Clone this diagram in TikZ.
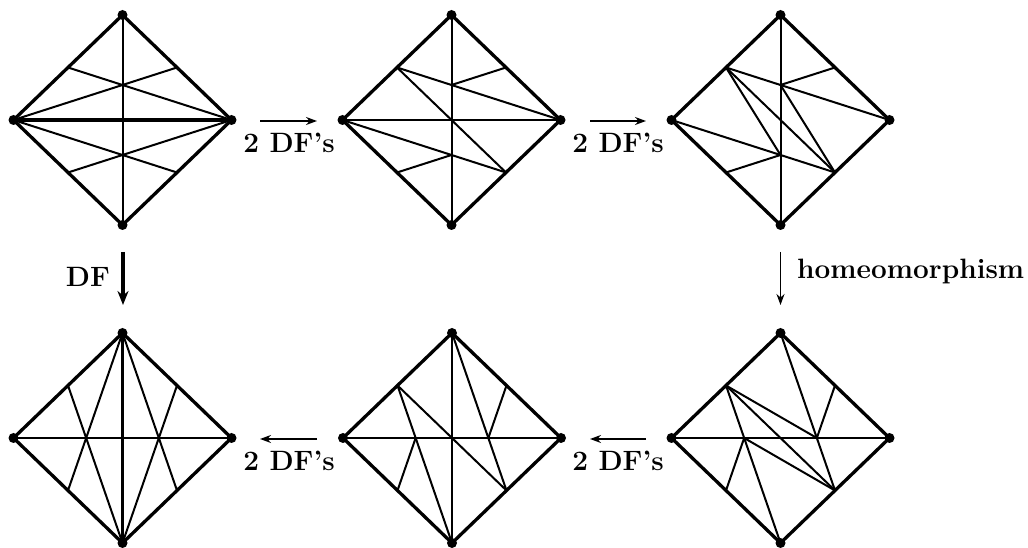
\documentclass[tikz,border=0pt]{standalone}
\usetikzlibrary{arrows.meta}
\tikzset{
  rim/.style={line width=3.3pt, line join=round},
  chord/.style={line width=2pt, line cap=round},
  heavy/.style={line width=3.2pt, line cap=round},
  vtx/.style={circle, fill=black, inner sep=0pt, minimum size=10pt},
  lbl/.style={font=\bfseries\fontsize{28}{32}\selectfont, inner sep=0pt},
  flow/.style={-{Stealth[length=11pt,width=8pt]}, line width=1.6pt},
  bigflow/.style={-{Stealth[length=14pt,width=11pt]}, line width=3.2pt},
}
% Square frame of a triangulated disc: four corner vertices, edge midpoints,
% and the interior points used by the chords.
\newcommand\discframe[3]{%
  \begin{scope}[shift={(#2pt,#3pt)}, x=109pt, y=105pt]
    \coordinate (#1-L)  at (-1,0);
    \coordinate (#1-R)  at (1,0);
    \coordinate (#1-T)  at (0,1);
    \coordinate (#1-B)  at (0,-1);
    \coordinate (#1-C)  at (0,0);
    \coordinate (#1-UL) at (-0.5,0.5);
    \coordinate (#1-UR) at (0.5,0.5);
    \coordinate (#1-LL) at (-0.5,-0.5);
    \coordinate (#1-LR) at (0.5,-0.5);
    \coordinate (#1-P)  at (0,1/3);
    \coordinate (#1-Q)  at (0,-1/3);
    \coordinate (#1-Lp) at (-1/3,0);
    \coordinate (#1-Rp) at (1/3,0);
  \end{scope}
}
\newcommand\discrim[1]{%
  \draw[rim] (#1-L) -- (#1-T) -- (#1-R) -- (#1-B) -- cycle;
  \foreach \v in {L,R,T,B} \node[vtx] (#1-dot\v) at (#1-\v) {};
}
\begin{document}
\begin{tikzpicture}[x=1pt, y=1pt]
  \useasboundingbox (0,0) rectangle (1028,548);

  \discframe{a}{122.5}{428}
  \discframe{b}{451.5}{428}
  \discframe{c}{780.5}{428}
  \discframe{d}{122.5}{110}
  \discframe{e}{452}{110}
  \discframe{f}{780.5}{110}

  % top left
  \draw[chord] (a-T) -- (a-B);
  \draw[heavy] (a-L) -- (a-R);
  \draw[chord] (a-UL) -- (a-R);
  \draw[chord] (a-UR) -- (a-L);
  \draw[chord] (a-LL) -- (a-R);
  \draw[chord] (a-LR) -- (a-L);
  \discrim{a}

  % top middle
  \draw[chord] (b-T) -- (b-B);
  \draw[chord] (b-L) -- (b-R);
  \draw[chord] (b-UL) -- (b-R);
  \draw[chord] (b-UR) -- (b-P);
  \draw[chord] (b-UL) -- (b-LR);
  \draw[chord] (b-L) -- (b-LR);
  \draw[chord] (b-LL) -- (b-Q);
  \discrim{b}

  % top right
  \draw[chord] (c-T) -- (c-B);
  \draw[chord] (c-UL) -- (c-R);
  \draw[chord] (c-UR) -- (c-P);
  \draw[chord] (c-UL) -- (c-LR);
  \draw[chord] (c-UL) -- (c-Q);
  \draw[chord] (c-P) -- (c-LR);
  \draw[chord] (c-L) -- (c-LR);
  \draw[chord] (c-LL) -- (c-Q);
  \discrim{c}

  % bottom left
  \draw[heavy] (d-T) -- (d-B);
  \draw[chord] (d-L) -- (d-R);
  \draw[chord] (d-T) -- (d-LL);
  \draw[chord] (d-T) -- (d-LR);
  \draw[chord] (d-B) -- (d-UL);
  \draw[chord] (d-B) -- (d-UR);
  \discrim{d}

  % bottom middle
  \draw[chord] (e-T) -- (e-B);
  \draw[chord] (e-L) -- (e-R);
  \draw[chord] (e-T) -- (e-LR);
  \draw[chord] (e-UR) -- (e-Rp);
  \draw[chord] (e-UL) -- (e-LR);
  \draw[chord] (e-UL) -- (e-B);
  \draw[chord] (e-LL) -- (e-Lp);
  \discrim{e}

  % bottom right
  \draw[chord] (f-L) -- (f-R);
  \draw[chord] (f-T) -- (f-LR);
  \draw[chord] (f-UR) -- (f-Rp);
  \draw[chord] (f-UL) -- (f-Rp);
  \draw[chord] (f-UL) -- (f-LR);
  \draw[chord] (f-UL) -- (f-B);
  \draw[chord] (f-Lp) -- (f-LR);
  \draw[chord] (f-LL) -- (f-Lp);
  \discrim{f}

  % moves between the triangulations
  \coordinate (m1s) at (260,427);  \coordinate (m1e) at (317,427);
  \coordinate (m2s) at (590,427);  \coordinate (m2e) at (646,427);
  \coordinate (m3s) at (646,109);  \coordinate (m3e) at (590,109);
  \coordinate (m4s) at (317,109);  \coordinate (m4e) at (260,109);
  \coordinate (m5s) at (123,296);  \coordinate (m5e) at (123,243);
  \coordinate (m6s) at (780.5,296); \coordinate (m6e) at (780.5,243);

  \draw[flow] (m1s) -- (m1e);
  \draw[flow] (m2s) -- (m2e);
  \draw[flow] (m3s) -- (m3e);
  \draw[flow] (m4s) -- (m4e);
  \draw[bigflow] (m5s) -- (m5e);
  \draw[flow] (m6s) -- (m6e);

  \node[lbl, anchor=base] (t1) at (289,395) {2 DF's};
  \node[lbl, anchor=base] (t2) at (618,395) {2 DF's};
  \node[lbl, anchor=base] (t3) at (618,77) {2 DF's};
  \node[lbl, anchor=base] (t4) at (289,77) {2 DF's};
  \node[lbl, anchor=base east] (t5) at (110,261) {DF};
  \node[lbl, anchor=base west] (t6) at (797,269) {homeomorphism};
\end{tikzpicture}
\end{document}
